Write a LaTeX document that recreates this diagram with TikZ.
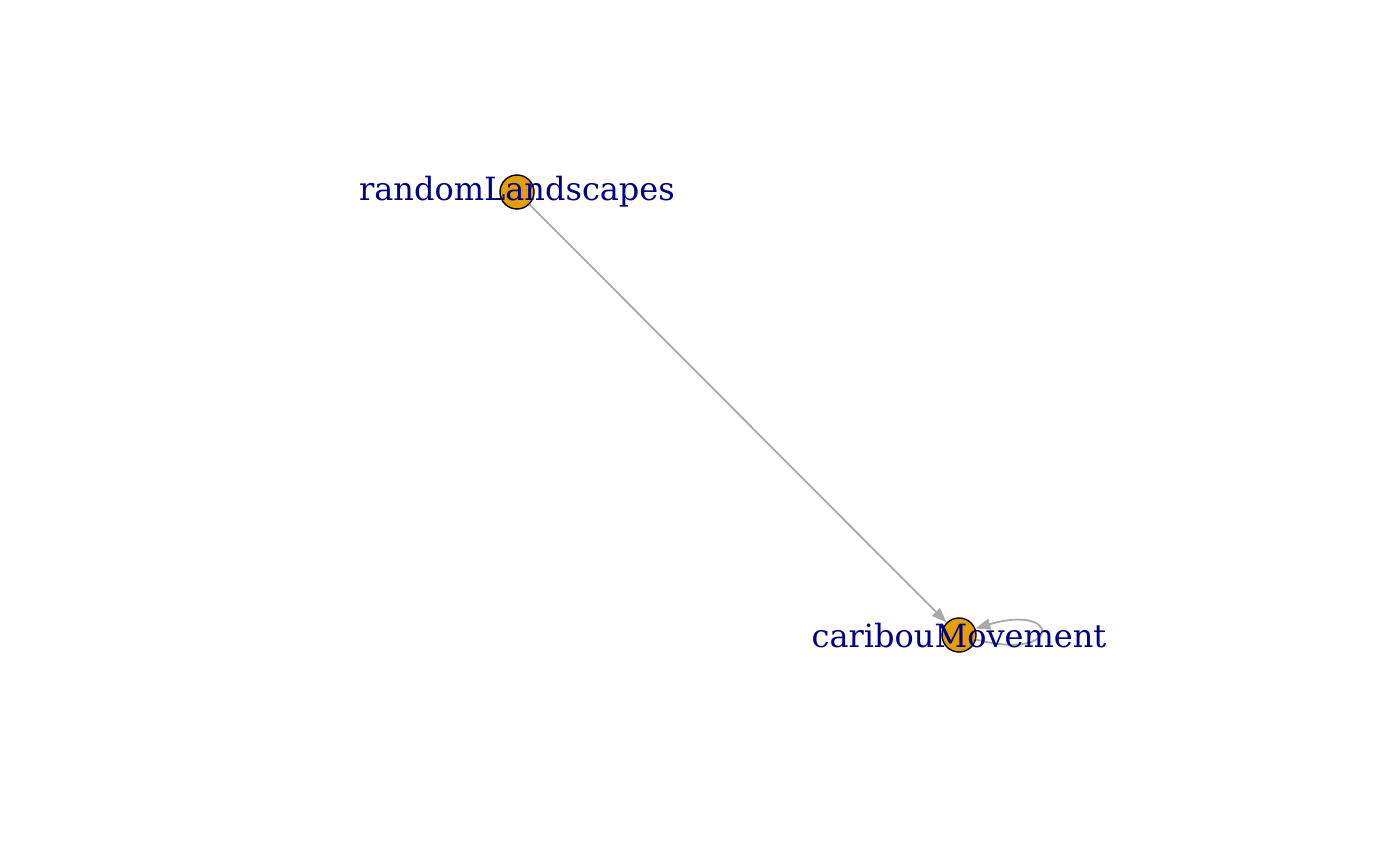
\documentclass[tikz,border=0pt]{standalone}
\usepackage{fontspec}
\setmainfont{DejaVu Serif}
\usetikzlibrary{arrows.meta}
\definecolor{nodeorange}{HTML}{E69F00}
\definecolor{labelblue}{HTML}{00008B}
\definecolor{edgegray}{HTML}{A9A9A9}
\tikzset{
  vertex/.style={circle,draw=black,fill=nodeorange,line width=1.4pt,minimum size=34pt,inner sep=0pt},
  vlabel/.style={text=labelblue,font=\fontsize{32}{38}\selectfont,inner sep=0pt},
  edge/.style={draw=edgegray,line width=1.8pt,-{Triangle[length=15pt,width=11pt]}}
}
\begin{document}
\begin{tikzpicture}[x=1pt,y=-1pt]
\useasboundingbox (0,0) rectangle (1400,866);
\node[vertex] (rl) at (517,192) {};
\node[vertex] (cm) at (959,635) {};
\draw[edge] (rl) -- (cm);
\draw[edge] (cm.-15) .. controls (1062,662) and (1062,603) .. (cm.22);
\node[vlabel] (rlt) at (517,192) {randomLandscapes};
\node[vlabel] (cmt) at (959,636) {caribouMovement};
\end{tikzpicture}
\end{document}
